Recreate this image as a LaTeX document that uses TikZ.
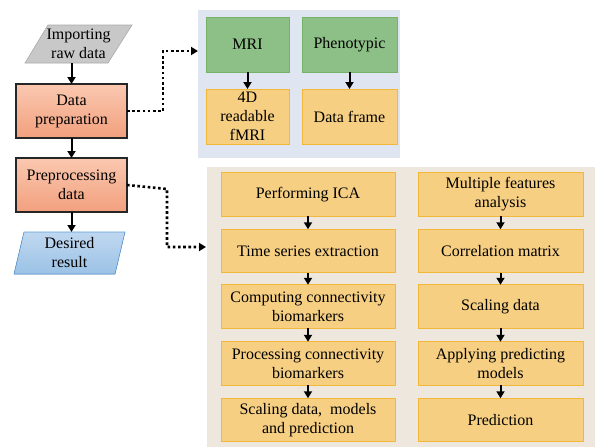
\documentclass[tikz,border=0pt]{standalone}
\usepackage{fontspec}
\setmainfont{Liberation Serif}
\usetikzlibrary{arrows.meta}

\definecolor{panelblue}{RGB}{223,229,241}
\definecolor{panelsand}{RGB}{237,231,221}
\definecolor{greenfill}{RGB}{141,192,134}
\definecolor{greenline}{RGB}{118,178,104}
\definecolor{amberfill}{RGB}{246,207,130}
\definecolor{amberline}{RGB}{243,184,58}
\definecolor{grayfill}{RGB}{200,200,200}
\definecolor{grayline}{RGB}{170,170,170}
\definecolor{salmontop}{RGB}{250,200,176}
\definecolor{salmonbot}{RGB}{242,160,125}
\definecolor{bluetop}{RGB}{192,216,240}
\definecolor{bluebot}{RGB}{155,194,230}
\definecolor{blueline}{RGB}{91,155,213}

\tikzset{
  txt/.style={font=\fontsize{16}{19}\selectfont, align=center, inner sep=0pt, outer sep=0pt},
  stagebox/.style={txt, draw=black!85, line width=1.8pt, top color=salmontop, bottom color=salmonbot,
    minimum width=111pt, minimum height=54pt},
  greenbox/.style={txt, draw=greenline, line width=0.9pt, fill=greenfill, minimum height=55pt},
  amberbox/.style={txt, draw=amberline, line width=0.9pt, fill=amberfill, minimum height=55pt},
  stepbox/.style={txt, draw=amberline, line width=0.9pt, fill=amberfill, minimum height=43.5pt},
  arr/.style={line width=2pt, -{Triangle[length=7pt,width=8pt]}},
  dotarr/.style={line width=2.6pt, dash pattern=on 2.6pt off 2.6pt, -{Triangle[length=7pt,width=8pt]}},
}

\begin{document}
\begin{tikzpicture}[x=1pt,y=-1pt]
  \useasboundingbox (0,0) rectangle (595,447);

  % background panels
  \fill[panelblue] (198,10) rectangle (400,158);
  \fill[panelsand] (207,167) rectangle (595,447);

  % input and output parallelograms
  \filldraw[fill=grayfill, draw=grayline, line width=0.6pt]
    (48,25) -- (132,25) -- (108,63) -- (25,63) -- cycle;
  \node[txt, minimum width=84pt, minimum height=38pt] (imp) at (78.5,44) {Importing\\raw data};

  \filldraw[top color=bluetop, bottom color=bluebot, draw=blueline, line width=0.6pt]
    (24,232) -- (125,232) -- (115,274) -- (14,274) -- cycle;
  \node[txt, minimum width=91pt, minimum height=42pt] (res) at (69.5,253) {Desired\\result};

  % main stages
  \node[stagebox] (dp) at (71.5,111) {Data\\preparation};
  \node[stagebox] (pp) at (71.5,185) {Preprocessing\\data};

  \draw[arr] (dp.north |- imp.south) -- (dp.north);
  \draw[arr] (dp.south) -- (pp.north);
  \draw[arr] (pp.south) -- (pp.south |- res.north);

  % data preparation detail
  \node[greenbox, minimum width=83pt] (mri) at (247.5,44.5) {MRI};
  \node[greenbox, minimum width=95pt] (phe) at (349.5,44.5) {Phenotypic};
  \node[amberbox, minimum width=83pt] (fmri) at (247.5,116.5) {4D\\readable\\fMRI};
  \node[amberbox, minimum width=95pt] (dfr) at (349.5,116.5) {Data frame};
  \draw[arr] (mri) -- (fmri);
  \draw[arr] (phe) -- (dfr);

  % preprocessing detail, left column
  \node[stepbox, minimum width=174pt] (l1) at (308,194.5) {Performing ICA};
  \node[stepbox, minimum width=174pt] (l2) at (308,251) {Time series extraction};
  \node[stepbox, minimum width=174pt] (l3) at (308,306.5) {Computing connectivity\\biomarkers};
  \node[stepbox, minimum width=174pt] (l4) at (308,363.5) {Processing connectivity\\biomarkers};
  \node[stepbox, minimum width=174pt] (l5) at (308,420) {Scaling data,\ \ models\\and prediction};

  % preprocessing detail, right column
  \node[stepbox, minimum width=165pt] (r1) at (500.5,194.5) {Multiple features\\analysis};
  \node[stepbox, minimum width=165pt] (r2) at (500.5,251) {Correlation matrix};
  \node[stepbox, minimum width=165pt] (r3) at (500.5,306.5) {Scaling data};
  \node[stepbox, minimum width=165pt] (r4) at (500.5,363.5) {Applying predicting\\models};
  \node[stepbox, minimum width=165pt] (r5) at (500.5,420) {Prediction};

  \foreach \a/\b in {l1/l2,l2/l3,l3/l4,l4/l5,r1/r2,r2/r3,r3/r4,r4/r5}
    \draw[arr] (\a) -- (\b);

  % dotted links to the detail panels
  \coordinate (topin) at (198,51);
  \coordinate (botin) at (206,247);
  \draw[dotarr] (dp.east) -- (163,111) |- (topin);
  \draw[dotarr] (pp.east) -- (167,189) |- (botin);
\end{tikzpicture}
\end{document}
